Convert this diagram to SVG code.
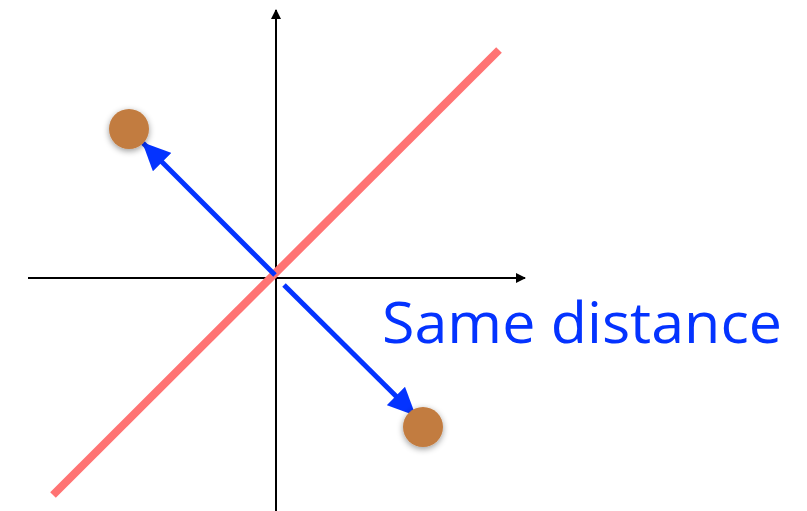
<svg xmlns="http://www.w3.org/2000/svg" width="807" height="511" viewBox="0 0 807 511">
<defs>
<style>
.axis{stroke:#000;stroke-width:2;fill:none}
.vec{stroke:#0433FF;stroke-width:5;fill:none}
.pt{fill:#C27C40}
.lbl{font-family:"Open Sans","Liberation Sans",sans-serif;font-size:56px;fill:#0433FF}
</style>
<marker id="ah" markerWidth="10" markerHeight="10" refX="9" refY="5" orient="auto" markerUnits="userSpaceOnUse"><path d="M0,0 L10,5 L0,10 Z" fill="#000"/></marker>
<marker id="bh" markerWidth="28" markerHeight="26" refX="27" refY="13" orient="auto" markerUnits="userSpaceOnUse"><path d="M0,0 L28,13 L0,26 Z" fill="#0433FF"/></marker>
<filter id="sh" x="-50%" y="-50%" width="200%" height="200%"><feDropShadow dx="0" dy="2" stdDeviation="3" flood-color="#000" flood-opacity="0.4"/></filter>
</defs>
<rect width="807" height="511" fill="#fff"/>
<g id="axes">
<line class="axis" x1="28" y1="278" x2="525" y2="278" marker-end="url(#ah)"/>
<line class="axis" x1="276" y1="511" x2="276" y2="10" marker-end="url(#ah)"/>
</g>
<g id="line">
<line x1="53" y1="495" x2="499" y2="50" stroke="#FF7373" stroke-width="8"/>
</g>
<g id="connectors">
<line class="vec" x1="275" y1="275" x2="143" y2="143" marker-end="url(#bh)"/>
<line class="vec" x1="284" y1="285" x2="415" y2="415" marker-end="url(#bh)"/>
</g>
<g id="p1"><circle class="pt" cx="129" cy="129" r="20" filter="url(#sh)"/></g>
<g id="p2"><circle class="pt" cx="423" cy="427" r="20" filter="url(#sh)"/></g>
<g id="label"><text class="lbl" x="382" y="343" textLength="400" lengthAdjust="spacingAndGlyphs">Same distance</text></g>
</svg>
